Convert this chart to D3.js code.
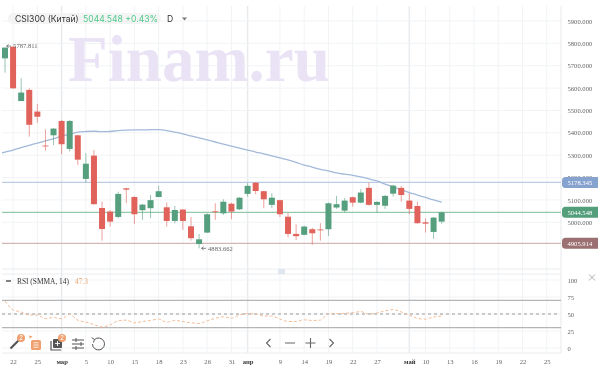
<!DOCTYPE html>
<html>
<head>
<meta charset="utf-8">
<script src="https://cdn.jsdelivr.net/npm/d3@7"></script>
<style>
  html, body { margin: 0; padding: 0; background: #fff; overflow: hidden; }
  svg { display: block; filter: blur(0.5px); }
  .axis path, .axis line { display: none; }
  .axis text { font-family: "Liberation Serif", serif; font-size: 6.6px; fill: #666; }
</style>
</head>
<body>
<div id="chart"></div>
<script>
// CSI300 daily candles
const opens = [5733,5785,5542,5592,5495,5343,5389,5453,5328,5389,5194,5298,5064,5048,5024,5152,5113,5054,5063,5113,5067,5006,5057,4982,4903,4954,5049,5040,5083,5058,5127,5177,5139,5078,5099,5025,4948,4944,4969,4968,4969,5066,5052,5112,5088,5154,5078,5074,5128,5154,5097,5073,5000,4957,5003];
const closes = [5781,5599,5580,5436,5472,5340,5419,5349,5453,5280,5262,5081,4970,5003,5127,5146,5036,5079,5099,5139,5006,5055,5006,4929,4924,5036,5046,5092,5048,5110,5163,5140,5103,5110,5036,4948,4938,4981,4951,4964,5085,5081,5097,5088,5133,5078,5091,5118,5164,5122,5060,4996,4994,5021,5044.548];
const highs = [5781,5787.811,5644,5599,5529,5416,5420,5458,5457,5391,5309,5323,5092,5055,5137,5154,5116,5082,5122,5163,5088,5073,5058,5023,4948,5040,5085,5103,5088,5112,5175,5179,5141,5130,5101,5043,4991,4985,4975,4996,5088,5118,5108,5115,5148,5177,5094,5122,5168,5163,5130,5092,5018,5024,5048];
const lows = [5669,5598,5542,5383,5445,5320,5346,5304,5316,5256,5177,5079,4918,4981,5018,5085,4993,5011,5018,5112,4981,4996,4966,4918,4883.662,4952,5011,5033,5014,5055,5115,5125,5063,5063,5023,4933,4921,4942,4899,4918,4939,5060,5043,5070,5085,5074,5043,5060,5115,5092,5037,4994,4954,4926,4993];
// moving average, first point sits one bar before the first candle
const maValues = [5303,5314,5323,5334,5344,5354,5364,5374,5385,5394,5403,5406,5407,5405,5406,5410,5412,5413,5413,5414,5414,5410,5403,5395,5386,5377,5368,5359,5350,5341,5332,5323,5314,5306,5297,5288,5279,5268,5256,5247,5237,5230,5221,5215,5210,5203,5194,5185,5171,5158,5145,5133,5122,5111,5100,5090];
const rsiValues = [69,56,53,48.5,48.5,43,45,43,49.5,41,38,34.5,31,34,40,41,37,39,40.5,42.5,38,40.5,39,37,36,40,43.5,46,44,48.5,50.5,50,47,47,42.5,39,39,41.5,40.5,41,50.5,50.5,51,52,53.5,50,51.5,54.5,56.5,53,48.5,43.5,42.5,45.5,47];

const priceTicks = [5900,5800,5700,5600,5500,5400,5300,5200,5100,5000];
const rsiTicks = [100,75,50,25,0];
const dateIndex = [1,4,7,10,13,16,19,22,25,28,30,34,37,40,43,46,50,52,55,58,61,64,67];
const dateLabels = ['22','25','мар','5','10','15','18','23','26','31','апр','9','14','19','22','27','май','10','13','16','19','22','25'];
const monthLabels = ['мар','апр','май'];
const levels = [
  { value: 5178.345, label: '5178.345', line: '#bccbe5', tag: '#86a3cf' },
  { value: 5044.548, label: '5044.548', line: '#93c9aa', tag: '#539f7c' },
  { value: 4905.914, label: '4905.914', line: '#d3b6b6', tag: '#9c6f72' }
];
const rsiLevels = [70, 30];

const width = 600, height = 367;
const green = '#559f7e', red = '#e0625a', orange = '#f2bd98';
const left = 2, right = 561;

const svg = d3.select('#chart').append('svg')
  .attr('width', width)
  .attr('height', height);

// scales
const x = d3.scaleLinear().domain([0, 67]).range([5, 546.8]);
const y = d3.scaleLinear().domain([5900, 5000]).range([21, 222.3]);
const yRsi = d3.scaleLinear().domain([100, 0]).range([280, 348]);

svg.append('defs').append('clipPath').attr('id', 'pane')
  .append('rect').attr('x', left).attr('y', 4).attr('width', right - left).attr('height', 265);

// grid
const grid = svg.append('g').attr('stroke', '#f1f3f5').attr('stroke-width', 1);
grid.selectAll('line.v').data(dateIndex).enter().append('line')
  .attr('x1', d => x(d)).attr('x2', d => x(d))
  .attr('y1', 6).attr('y2', 353)
  .attr('stroke', (d, i) => monthLabels.includes(dateLabels[i]) ? '#e8ebee' : '#f1f3f5')
  .attr('stroke-width', (d, i) => monthLabels.includes(dateLabels[i]) ? 1.5 : 1);
grid.selectAll('line.h').data(priceTicks).enter().append('line')
  .attr('x1', left).attr('x2', right)
  .attr('y1', d => y(d)).attr('y2', d => y(d));
grid.selectAll('line.r').data(rsiTicks).enter().append('line')
  .attr('x1', left).attr('x2', right)
  .attr('y1', d => yRsi(d)).attr('y2', d => yRsi(d));
grid.append('line').attr('x1', right).attr('x2', right).attr('y1', 6).attr('y2', 353).attr('stroke', '#e6e9ec');
[269, 274, 353].forEach(p => {
  svg.append('line').attr('x1', left).attr('x2', right).attr('y1', p).attr('y2', p).attr('stroke', '#e9ecef');
});
svg.append('rect').attr('x', 278).attr('y', 269).attr('width', 7).attr('height', 5).attr('fill', '#dfe6ee');

// watermark
svg.append('text')
  .attr('x', 68).attr('y', 81)
  .attr('font-family', '"Liberation Serif", serif')
  .attr('font-weight', 'bold')
  .attr('font-size', 65)
  .attr('fill', '#e9e3f5')
  .text('Finam.ru');

// level lines
svg.append('g').selectAll('line').data(levels).enter().append('line')
  .attr('x1', left).attr('x2', right)
  .attr('y1', d => y(d.value)).attr('y2', d => y(d.value))
  .attr('stroke', d => d.line)
  .attr('stroke-width', 1.4);

// moving average
const maLine = d3.line().x((d, i) => x(i - 1)).y(d => y(d)).curve(d3.curveMonotoneX);
svg.append('path')
  .attr('clip-path', 'url(#pane)')
  .attr('d', maLine(maValues))
  .attr('fill', 'none')
  .attr('stroke', '#a3b9d9')
  .attr('stroke-width', 1.3);

// candles
const candles = svg.append('g').selectAll('g').data(opens).enter().append('g')
  .attr('fill', (d, i) => closes[i] >= d ? green : red)
  .attr('stroke', (d, i) => closes[i] >= d ? green : red);
candles.append('line')
  .attr('x1', (d, i) => x(i)).attr('x2', (d, i) => x(i))
  .attr('y1', (d, i) => y(highs[i])).attr('y2', (d, i) => y(lows[i]))
  .attr('stroke-opacity', 0.6);
candles.append('rect')
  .attr('x', (d, i) => x(i) - 3)
  .attr('width', 6)
  .attr('y', (d, i) => y(Math.max(d, closes[i])))
  .attr('height', (d, i) => Math.max(0.8, Math.abs(y(d) - y(closes[i]))))
  .attr('stroke', 'none');

// high / low marks
const extremes = [
  { i: 1, value: d3.max(highs), dy: 0, dx: -7 },
  { i: 24, value: d3.min(lows), dy: 0, dx: 2 }
];
const markers = svg.append('g').selectAll('g').data(extremes).enter().append('g')
  .attr('transform', d => `translate(${x(d.i) + d.dx},${y(d.value)})`);
markers.append('path')
  .attr('d', 'M5,0H0.5M2.5,-1.6L0.5,0L2.5,1.6')
  .attr('fill', 'none').attr('stroke', '#555').attr('stroke-width', 0.7);
markers.append('text')
  .attr('x', 7).attr('y', 2.2)
  .attr('font-family', '"Liberation Serif", serif')
  .attr('font-size', 6.6).attr('fill', '#666')
  .text(d => d.value.toFixed(3));

// price axis + tags
svg.append('g').attr('class', 'axis')
  .attr('transform', `translate(${right + 6.5},0)`)
  .call(d3.axisRight(y).tickValues(priceTicks).tickSize(0).tickPadding(0).tickFormat(d3.format('.3f')));
const tags = svg.append('g').selectAll('g').data(levels).enter().append('g')
  .attr('transform', d => `translate(${right + 1},${y(d.value)})`);
tags.append('path')
  .attr('d', 'M3.5,-5.5H36V5.5H3.5Q0,5.5 0,2V-2Q0,-5.5 3.5,-5.5Z')
  .attr('fill', d => d.tag);
tags.append('text')
  .attr('x', 5.5).attr('y', 2.2)
  .attr('font-family', '"Liberation Serif", serif')
  .attr('font-size', 6.6).attr('fill', '#fff')
  .text(d => d.label);

// rsi pane
svg.append('g').selectAll('line').data(rsiLevels).enter().append('line')
  .attr('x1', left).attr('x2', right)
  .attr('y1', d => yRsi(d)).attr('y2', d => yRsi(d))
  .attr('stroke', '#b5b5b5').attr('stroke-width', 1.3);
svg.append('line')
  .attr('x1', left).attr('x2', right - 2)
  .attr('y1', yRsi(50)).attr('y2', yRsi(50))
  .attr('stroke', '#9a9a9a').attr('stroke-width', 1).attr('stroke-dasharray', '3,3');
const rsiLine = d3.line().x((d, i) => x(i)).y(d => yRsi(d)).curve(d3.curveMonotoneX);
svg.append('path')
  .attr('d', rsiLine(rsiValues))
  .attr('fill', 'none')
  .attr('stroke', orange)
  .attr('stroke-width', 1)
  .attr('stroke-dasharray', '3,2');
svg.append('g').attr('class', 'axis')
  .attr('transform', `translate(${right + 6.5},0)`)
  .call(d3.axisRight(yRsi).tickValues(rsiTicks).tickSize(0).tickPadding(0))
  .selectAll('text').attr('font-size', 6.6);

// date axis
const dateAxis = svg.append('g').attr('class', 'axis')
  .attr('transform', 'translate(0,357)')
  .call(d3.axisBottom(x).tickValues(dateIndex).tickSize(0).tickPadding(2)
    .tickFormat((d, i) => dateLabels[i]));
dateAxis.selectAll('text')
  .style('font-weight', (d, i) => monthLabels.includes(dateLabels[i]) ? 'bold' : 'normal')
  .style('fill', (d, i) => monthLabels.includes(dateLabels[i]) ? '#333' : '#666');

// header
const sans = 'Inter, Lato, sans-serif';
svg.append('rect').attr('x', 8).attr('y', 13).attr('width', 153).attr('height', 11).attr('rx', 5.5).attr('fill', '#f4f4f5');
svg.append('text').attr('x', 15).attr('y', 22).attr('font-family', sans).attr('font-size', 8.6).attr('fill', '#333').text('CSI300 (Китай)');
svg.append('text').attr('x', 83).attr('y', 22).attr('font-family', sans).attr('font-size', 8.6).attr('fill', '#4fc98a').text('5044.548 +0.43%');
svg.append('text').attr('x', 167).attr('y', 22).attr('font-family', sans).attr('font-size', 8.6).attr('fill', '#333').text('D');
svg.append('path').attr('d', 'M182,17.5h5l-2.5,3z').attr('fill', '#777');

// rsi legend
svg.append('line').attr('x1', 6).attr('x2', 11).attr('y1', 281).attr('y2', 281).attr('stroke', '#333').attr('stroke-width', 1.2);
svg.append('text').attr('x', 17).attr('y', 284).attr('font-family', '"Liberation Serif", serif').attr('font-size', 7.4).attr('fill', '#333').text('RSI (SMMA, 14)');
svg.append('text').attr('x', 75).attr('y', 284).attr('font-family', '"Liberation Serif", serif').attr('font-size', 7.4).attr('fill', '#e9a46e').text('47.3');
svg.append('path').attr('d', 'M589,274.5l6,6M595,274.5l-6,6').attr('stroke', '#999').attr('stroke-width', 0.8);

// toolbar icons
const tools = svg.append('g').attr('fill', 'none').attr('stroke', '#555').attr('stroke-width', 1.4);
tools.append('path').attr('d', 'M10.5,348.5L19,340').attr('stroke-width', 2.2);
tools.append('rect').attr('x', 31).attr('y', 340).attr('width', 10).attr('height', 10).attr('rx', 1.5).attr('fill', '#f0a070').attr('stroke', 'none');
tools.append('path').attr('d', 'M33.5,342.8h5M33.5,345h5M33.5,347.2h5').attr('stroke', '#fff').attr('stroke-width', 0.8);
tools.append('path').attr('d', 'M29,335.5l3.5,0.8l-2.6,2.4z').attr('fill', '#f0a070').attr('stroke', 'none');
tools.append('path').attr('d', 'M51,341v9h10').attr('stroke-width', 1.2);
tools.append('rect').attr('x', 53).attr('y', 339).attr('width', 9).attr('height', 9).attr('rx', 1).attr('fill', '#555').attr('stroke', 'none');
tools.append('path').attr('d', 'M57.5,341v5M55,343.5h5').attr('stroke', '#fff').attr('stroke-width', 0.9);
tools.append('path').attr('d', 'M72,340h12M72,344h12M72,348h12M76,338v4M81,342v4M76,346v4').attr('stroke-width', 1);
tools.append('path').attr('d', 'M94.5,339.5A6,6 0 1 1 92.5,344M94.5,339.5l-2.8,-1.8M94.5,339.5l-1,3').attr('stroke-width', 1);
const badges = svg.append('g').selectAll('g').data([{ cx: 21, cy: 338 }, { cx: 62, cy: 338 }]).enter().append('g');
badges.append('circle').attr('cx', d => d.cx).attr('cy', d => d.cy).attr('r', 4).attr('fill', '#f0a070');
badges.append('text').attr('x', d => d.cx).attr('y', d => d.cy + 2.2).attr('text-anchor', 'middle')
  .attr('font-family', sans).attr('font-size', 6).attr('fill', '#fff').text('2');

// navigation
svg.append('path')
  .attr('d', 'M270.5,339l-4,4l4,4M285,343h10M305.5,343h10M310.5,338v10M329.5,339l4,4l-4,4')
  .attr('fill', 'none').attr('stroke', '#666').attr('stroke-width', 1.1);
</script>
</body>
</html>
